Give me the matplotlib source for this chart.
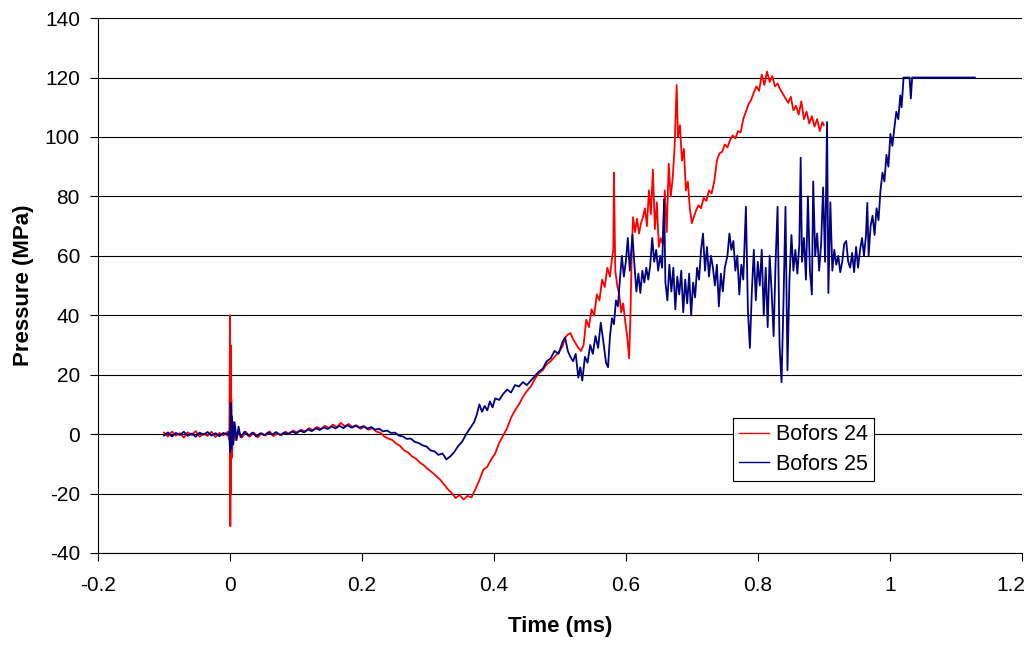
import matplotlib.pyplot as plt
from matplotlib.transforms import ScaledTranslation

# Bofors 24 (red) - time in ms, pressure in MPa
red_t = [-0.100, -0.094, -0.088, -0.082, -0.076, -0.070, -0.064, -0.058, -0.052, -0.046,
         -0.040, -0.034, -0.028, -0.022, -0.016, -0.010, -0.004, -0.001, 0.000, 0.0005,
         0.001, 0.0015, 0.002, 0.003, 0.005, 0.008, 0.012,
         0.018, 0.024, 0.030, 0.036, 0.042, 0.048, 0.054, 0.060, 0.066, 0.072,
         0.078, 0.084, 0.090, 0.096, 0.102, 0.108, 0.114, 0.120, 0.126, 0.132,
         0.138, 0.144, 0.150, 0.156, 0.162, 0.168, 0.174, 0.180, 0.186, 0.192,
         0.198, 0.204, 0.210, 0.216, 0.222, 0.228, 0.234, 0.240, 0.246, 0.252,
         0.258, 0.264, 0.270, 0.276, 0.282, 0.288, 0.294, 0.300, 0.306, 0.312,
         0.318, 0.324, 0.330, 0.336, 0.342, 0.348, 0.354, 0.360, 0.366, 0.372,
         0.378, 0.384, 0.390, 0.396, 0.402, 0.408, 0.414, 0.420, 0.426, 0.432,
         0.438, 0.444, 0.450, 0.456, 0.462, 0.468, 0.474, 0.480, 0.486, 0.492,
         0.498, 0.504, 0.508, 0.512, 0.516, 0.520, 0.524, 0.528, 0.532, 0.536,
         0.540, 0.544, 0.548, 0.552, 0.556, 0.560, 0.564, 0.568, 0.572, 0.576,
         0.579, 0.581, 0.582, 0.584, 0.587, 0.590, 0.593, 0.596, 0.599, 0.602,
         0.605, 0.607, 0.609, 0.611, 0.614, 0.617, 0.620, 0.623, 0.626, 0.629,
         0.632, 0.635, 0.638, 0.641, 0.644, 0.647, 0.650, 0.653, 0.656, 0.659,
         0.662, 0.665, 0.668, 0.671, 0.674, 0.677, 0.679, 0.682, 0.685, 0.688,
         0.691, 0.694, 0.697, 0.700, 0.703, 0.706, 0.710, 0.714, 0.718, 0.722,
         0.726, 0.730, 0.734, 0.738, 0.742, 0.746, 0.750, 0.754, 0.758, 0.762,
         0.766, 0.770, 0.774, 0.778, 0.782, 0.786, 0.790, 0.794, 0.798, 0.802,
         0.806, 0.810, 0.814, 0.818, 0.822, 0.826, 0.830, 0.834, 0.838, 0.842,
         0.846, 0.850, 0.854, 0.858, 0.862, 0.866, 0.870, 0.874, 0.878, 0.882,
         0.886, 0.890, 0.894, 0.898, 0.900]
red_p = [0.5, -0.8, 0.9, -0.5, 0.3, -1.2, 0.6, -0.3, 1.0, -0.9,
         0.2, -0.6, 0.8, -1.0, 0.4, -0.4, 0.7, -2.0, 40.0, -31.0,
         30.0, -20.0, 12.0, -8.0, 4.0, -2.0, 1.0,
         -1.2, 0.8, -0.9, 0.5, -1.1, 0.3, -0.5, 0.9, -0.7, 0.2,
         -0.4, 0.8, 0.1, 1.2, 0.4, 1.5, 0.8, 2.0, 1.3, 2.4,
         1.6, 2.8, 2.0, 3.2, 2.3, 3.8, 2.6, 3.4, 2.2, 3.0,
         1.8, 2.6, 1.5, 2.0, 0.8, 0.5, -0.8, -1.5, -2.0, -3.2,
         -4.0, -5.5, -6.2, -7.5, -8.3, -9.6, -10.5, -11.8, -12.8, -14.0,
         -15.2, -16.8, -18.5, -19.8, -21.5, -20.5, -22.0, -20.8, -21.3, -18.5,
         -15.5, -12.0, -11.0, -8.5, -6.5, -3.0, -0.5, 2.0, 5.5, 8.0,
         10.0, 12.5, 14.5, 16.0, 18.5, 20.5, 21.5, 23.5, 24.5, 26.0,
         27.5, 29.5, 32.5, 33.5, 34.0, 32.0, 30.5, 29.0, 28.0, 30.0,
         38.5, 36.0, 42.0, 40.0, 47.0, 45.0, 52.0, 49.5, 56.0, 53.0,
         59.0, 62.0, 88.0, 55.0, 50.0, 47.0, 41.0, 44.0, 38.0, 33.0,
         25.5, 40.0, 62.0, 73.0, 68.0, 72.5, 67.5, 71.0, 73.0, 76.0,
         70.0, 82.0, 74.0, 89.0, 69.0, 78.0, 63.0, 66.0, 64.0, 82.0,
         68.0, 91.0, 80.0, 86.0, 97.0, 117.5, 100.0, 104.0, 92.0, 96.0,
         82.0, 85.0, 76.0, 71.0, 73.0, 75.0, 77.0, 76.0, 79.5, 78.5,
         82.0, 81.0, 85.0, 92.0, 94.5, 95.0, 97.5, 96.5, 99.0, 100.5,
         99.5, 102.0, 101.5, 106.0, 108.5, 111.0, 112.5, 115.0, 117.0, 115.5,
         121.0, 117.5, 122.0, 118.5, 120.5, 117.0, 118.0, 116.0, 114.5, 113.0,
         111.5, 113.5, 109.0, 110.5, 107.5, 112.0, 106.0, 108.5, 104.5, 107.0,
         103.5, 106.0, 102.0, 105.0, 104.0]

# Bofors 25 (blue)
blue_t = [-0.100, -0.094, -0.088, -0.082, -0.076, -0.070, -0.064, -0.058, -0.052, -0.046,
          -0.040, -0.034, -0.028, -0.022, -0.016, -0.010, -0.004, -0.001, 0.000, 0.001,
          0.002, 0.003, 0.005, 0.007, 0.010, 0.013, 0.016,
          0.022, 0.028, 0.034, 0.040, 0.046, 0.052, 0.058, 0.064, 0.070, 0.076,
          0.082, 0.088, 0.094, 0.100, 0.106, 0.112, 0.118, 0.124, 0.130, 0.136,
          0.142, 0.148, 0.154, 0.160, 0.166, 0.172, 0.178, 0.184, 0.190, 0.196,
          0.202, 0.208, 0.214, 0.220, 0.226, 0.232, 0.238, 0.244, 0.250, 0.256,
          0.262, 0.268, 0.274, 0.280, 0.286, 0.292, 0.298, 0.304, 0.310, 0.316,
          0.322, 0.328, 0.334, 0.340, 0.346, 0.352, 0.358, 0.364, 0.370, 0.374,
          0.378, 0.382, 0.386, 0.390, 0.394, 0.398, 0.402, 0.408, 0.414, 0.420,
          0.426, 0.432, 0.438, 0.444, 0.450, 0.456, 0.462, 0.468, 0.474, 0.480,
          0.486, 0.492, 0.498, 0.504, 0.508, 0.512, 0.516, 0.520, 0.524, 0.528,
          0.531, 0.534, 0.538, 0.542, 0.546, 0.550, 0.554, 0.558, 0.562, 0.566,
          0.570, 0.573, 0.576, 0.579, 0.582, 0.585, 0.588, 0.591, 0.594, 0.597,
          0.600, 0.603, 0.606, 0.610, 0.613, 0.616, 0.619, 0.622, 0.625, 0.628,
          0.631, 0.634, 0.637, 0.640, 0.643, 0.646, 0.649, 0.652, 0.655, 0.658,
          0.660, 0.663, 0.666, 0.669, 0.672, 0.675, 0.678, 0.681, 0.684, 0.687,
          0.690, 0.693, 0.696, 0.699, 0.702, 0.705, 0.708, 0.711, 0.714, 0.717,
          0.720, 0.723, 0.726, 0.729, 0.732, 0.735, 0.738, 0.741, 0.744, 0.747,
          0.750, 0.754, 0.757, 0.760, 0.763, 0.766, 0.769, 0.772, 0.775, 0.778,
          0.782, 0.785, 0.788, 0.791, 0.794, 0.797, 0.800, 0.803, 0.806, 0.809,
          0.812, 0.815, 0.818, 0.821, 0.824, 0.827, 0.830, 0.833, 0.836, 0.839,
          0.842, 0.845, 0.848, 0.851, 0.854, 0.857, 0.860, 0.863, 0.865, 0.867,
          0.870, 0.873, 0.876, 0.879, 0.882, 0.884, 0.887, 0.890, 0.893, 0.896,
          0.899, 0.902, 0.905, 0.907, 0.910, 0.913, 0.916, 0.919, 0.922, 0.925,
          0.928, 0.931, 0.934, 0.937, 0.940, 0.943, 0.946, 0.949, 0.952, 0.955,
          0.958, 0.961, 0.964, 0.966, 0.968, 0.971, 0.974, 0.977, 0.980, 0.983,
          0.986, 0.989, 0.992, 0.995, 0.998, 1.001, 1.004, 1.007, 1.010, 1.013,
          1.016, 1.018, 1.021, 1.026, 1.030, 1.032, 1.034, 1.060, 1.090, 1.129]
blue_p = [-0.5, 0.6, -0.8, 0.4, -0.3, 0.8, -0.6, 0.2, -0.9, 0.5,
          -0.2, 0.7, -0.5, 0.3, -0.7, 0.4, -0.3, 1.0, -6.0, 10.5,
          -5.0, 6.0, -3.5, 4.0, -2.0, 2.5, -1.0,
          0.8, -0.6, 0.5, -0.8, 0.3, -0.4, 0.6, -0.2, 0.7, -0.3,
          0.5, 0.0, 0.9, 0.3, 1.2, 0.6, 1.6, 1.0, 2.0, 1.4,
          2.3, 1.7, 2.6, 1.9, 2.8, 2.0, 3.0, 2.2, 2.9, 2.1,
          2.7, 1.8, 2.4, 1.5, 1.8, 0.9, 1.2, 0.4, 0.5, -0.5,
          -0.8, -1.6, -1.5, -2.6, -3.0, -3.8, -4.2, -5.5, -5.8, -7.0,
          -6.5, -8.5, -7.5, -6.0, -4.0, -2.5, 0.0, 2.0, 4.0, 6.5,
          10.0, 7.5, 9.5, 8.0, 11.0, 9.0, 12.0, 11.5, 13.5, 15.0,
          14.0, 16.5, 16.0, 17.5, 16.5, 18.0, 19.5, 21.0, 22.0, 24.5,
          25.5, 28.0, 27.0, 31.0, 32.5, 28.0, 26.0, 24.5, 27.0, 19.0,
          22.5, 18.0, 26.0, 24.0, 30.0, 27.0, 33.0, 29.0, 37.5, 31.0,
          24.0, 22.5, 33.0, 39.0, 37.0, 45.0, 43.0, 52.0, 60.0, 53.0,
          58.0, 66.0, 55.0, 67.0, 57.0, 48.0, 54.0, 47.5, 55.0, 51.0,
          56.0, 52.0, 57.0, 66.0, 58.0, 62.0, 55.0, 60.0, 56.0, 79.0,
          51.0, 45.0, 57.0, 48.0, 56.0, 42.0, 53.0, 47.0, 55.0, 41.0,
          52.0, 44.0, 54.0, 40.0, 51.0, 46.0, 56.0, 52.0, 62.0, 67.5,
          55.0, 63.0, 53.0, 60.0, 56.0, 50.0, 57.0, 43.0, 54.0, 48.0,
          56.0, 60.0, 67.5, 62.0, 65.0, 55.0, 60.0, 47.0, 57.0, 52.0,
          76.5, 42.0, 29.0, 48.0, 62.0, 45.0, 58.0, 50.0, 62.0, 40.0,
          56.0, 36.0, 60.0, 48.0, 33.0, 58.0, 76.5, 30.0, 17.5, 45.0,
          76.5, 21.5, 52.0, 67.0, 55.0, 62.0, 54.0, 64.0, 93.0, 58.0,
          66.0, 52.0, 80.0, 55.0, 47.0, 85.0, 60.0, 67.5, 55.0, 64.0,
          83.0, 58.0, 105.0, 47.5, 78.0, 55.0, 62.0, 57.0, 60.0, 54.5,
          58.0, 64.0, 65.0, 58.0, 56.0, 61.0, 54.5, 63.0, 56.0, 62.0,
          66.0, 60.0, 67.0, 77.8, 60.0, 70.0, 73.5, 67.0, 76.0, 72.0,
          82.0, 88.0, 85.0, 94.0, 90.0, 101.0, 97.0, 103.0, 108.5, 106.0,
          114.0, 110.0, 120.0, 120.0, 120.0, 113.0, 120.0, 120.0, 120.0, 120.0]

x_ticks = [-0.2, 0, 0.2, 0.4, 0.6, 0.8, 1, 1.2]
x_labels = ['-0.2', '0', '0.2', '0.4', '0.6', '0.8', '1', '1.2']
y_ticks = [-40, -20, 0, 20, 40, 60, 80, 100, 120, 140]

plt.rcParams['font.family'] = ['Liberation Sans', 'DejaVu Sans']
plt.rcParams['axes.unicode_minus'] = False

fig = plt.figure(figsize=(10.32, 6.46), dpi=100)
ax = fig.add_axes([0.095, 0.144, 0.895, 0.828])

for y in y_ticks:
    ax.axhline(y, color='black', lw=0.8, zorder=0)

ax.plot(red_t, red_p, color='#FF0000', lw=1.3, label='Bofors 24')
ax.plot(blue_t, blue_p, color='#000080', lw=1.3, label='Bofors 25')

ax.set_xlim(-0.2, 1.2)
ax.set_ylim(-40, 140)
ax.set_xticks(x_ticks)
ax.set_xticklabels(x_labels)
ax.set_yticks(y_ticks)
ax.tick_params(axis='both', labelsize=15, direction='out', length=6, width=0.8,
               color='black')
ax.tick_params(axis='x', pad=10.5)
ax.tick_params(axis='y', pad=7)

# keep the last x label inside the figure edge
last = ax.get_xticklabels()[-1]
last.set_transform(last.get_transform() + ScaledTranslation(-8 / 72, 0, fig.dpi_scale_trans))

for s in ['top', 'right']:
    ax.spines[s].set_visible(False)
for s in ['left', 'bottom']:
    ax.spines[s].set_color('black')
    ax.spines[s].set_linewidth(0.8)

ax.set_xlabel('Time (ms)', fontsize=16, fontweight='bold', labelpad=15)
ax.set_ylabel('Pressure (MPa)', fontsize=16, fontweight='bold', labelpad=8)

leg = ax.legend(loc='upper left', bbox_to_anchor=(0.687, 0.253), fontsize=15.5,
                frameon=True, fancybox=False, edgecolor='black', framealpha=1,
                handlelength=1.4, borderpad=0.3, labelspacing=0.4, handletextpad=0.3,
                borderaxespad=0)
leg.get_frame().set_linewidth(0.8)
for line in leg.get_lines():
    line.set_linewidth(1.0)

fig.savefig('out.png', dpi=100)
